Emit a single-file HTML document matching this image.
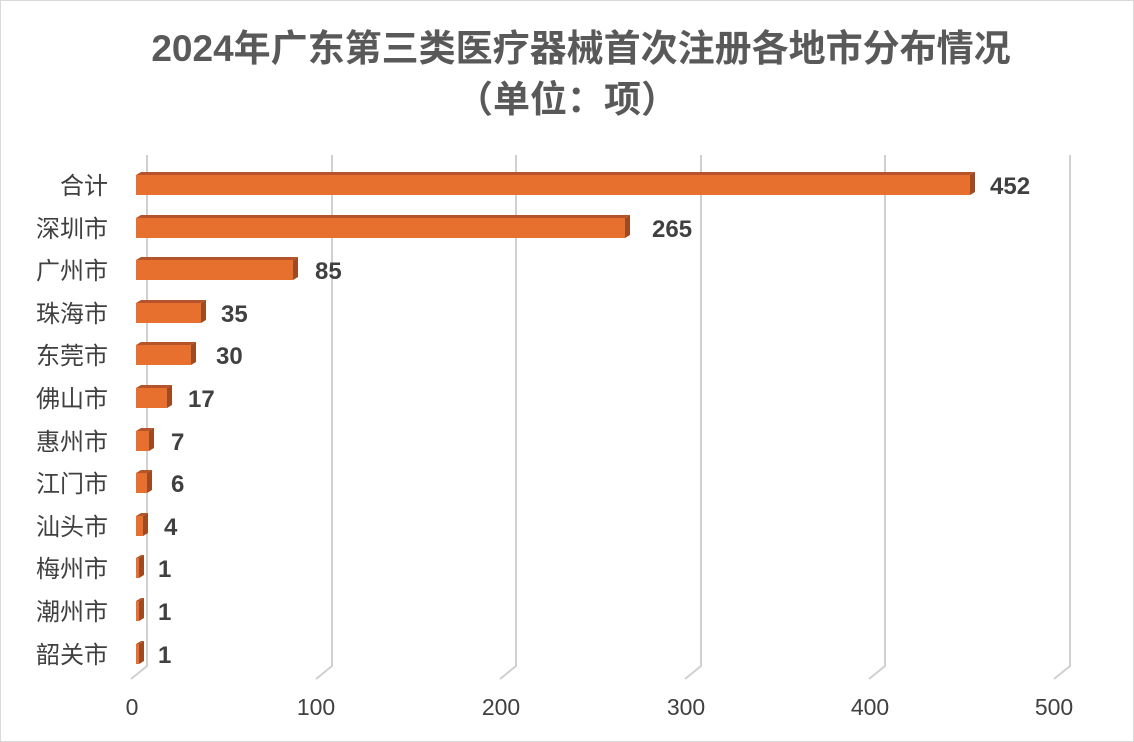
<!DOCTYPE html>
<html><head><meta charset="utf-8"><style>
html,body{margin:0;padding:0;background:#fff}
svg{display:block}
text{font-family:"Liberation Sans","Noto Sans CJK SC",sans-serif}
</style></head><body>
<svg width="1134" height="742" viewBox="0 0 1134 742" xmlns="http://www.w3.org/2000/svg">
<rect x="0.5" y="0.5" width="1133" height="741" fill="#fff" stroke="#d9d9d9"/>
<text x="581" y="61" text-anchor="middle" font-size="37" font-weight="bold" fill="#595959">2024年广东第三类医疗器械首次注册各地市分布情况</text>
<text x="567" y="112" text-anchor="middle" font-size="37" font-weight="bold" fill="#595959">（单位：项）</text>
<g stroke="#d0d0d0" stroke-width="2" fill="none">
<polyline points="147,155 147,666 131,679"/>
<polyline points="332,155 332,666 316,679"/>
<polyline points="516,155 516,666 500,679"/>
<polyline points="701,155 701,666 685,679"/>
<polyline points="885,155 885,666 869,679"/>
<polyline points="1070,155 1070,666 1054,679"/>
</g>
<g font-size="23" fill="#404040" text-anchor="middle">
<text x="132" y="715">0</text><text x="316" y="715">100</text><text x="501" y="715">200</text>
<text x="686" y="715">300</text><text x="870" y="715">400</text><text x="1054" y="715">500</text>
</g>
<g>
<polygon points="136,175 141,172 975,172 970,175" fill="#b5542a"/><rect x="136" y="175" width="834" height="20" fill="#e8702f"/><polygon points="970,175 975,172 975,192 970,195" fill="#9e4a22"/>
<polygon points="136,218 141,215 630,215 625,218" fill="#b5542a"/><rect x="136" y="218" width="489" height="20" fill="#e8702f"/><polygon points="625,218 630,215 630,235 625,238" fill="#9e4a22"/>
<polygon points="136,260 141,257 298,257 293,260" fill="#b5542a"/><rect x="136" y="260" width="157" height="20" fill="#e8702f"/><polygon points="293,260 298,257 298,277 293,280" fill="#9e4a22"/>
<polygon points="136,303 141,300 206,300 201,303" fill="#b5542a"/><rect x="136" y="303" width="65" height="20" fill="#e8702f"/><polygon points="201,303 206,300 206,320 201,323" fill="#9e4a22"/>
<polygon points="136,345 141,342 196,342 191,345" fill="#b5542a"/><rect x="136" y="345" width="55" height="20" fill="#e8702f"/><polygon points="191,345 196,342 196,362 191,365" fill="#9e4a22"/>
<polygon points="136,388 141,385 172,385 167,388" fill="#b5542a"/><rect x="136" y="388" width="31" height="20" fill="#e8702f"/><polygon points="167,388 172,385 172,405 167,408" fill="#9e4a22"/>
<polygon points="136,431 141,428 154,428 149,431" fill="#b5542a"/><rect x="136" y="431" width="13" height="20" fill="#e8702f"/><polygon points="149,431 154,428 154,448 149,451" fill="#9e4a22"/>
<polygon points="136,473 141,470 152,470 147,473" fill="#b5542a"/><rect x="136" y="473" width="11" height="20" fill="#e8702f"/><polygon points="147,473 152,470 152,490 147,493" fill="#9e4a22"/>
<polygon points="136,516 141,513 148,513 143,516" fill="#b5542a"/><rect x="136" y="516" width="7" height="20" fill="#e8702f"/><polygon points="143,516 148,513 148,533 143,536" fill="#9e4a22"/>
<polygon points="136,558 141,555 144,555 139,558" fill="#b5542a"/><rect x="136" y="558" width="3" height="20" fill="#e8702f"/><polygon points="139,558 144,555 144,575 139,578" fill="#9e4a22"/>
<polygon points="136,601 141,598 144,598 139,601" fill="#b5542a"/><rect x="136" y="601" width="3" height="20" fill="#e8702f"/><polygon points="139,601 144,598 144,618 139,621" fill="#9e4a22"/>
<polygon points="136,644 141,641 144,641 139,644" fill="#b5542a"/><rect x="136" y="644" width="3" height="20" fill="#e8702f"/><polygon points="139,644 144,641 144,661 139,664" fill="#9e4a22"/>
</g>
<g font-size="24" font-weight="bold" fill="#404040">
<text x="990" y="194">452</text>
<text x="652" y="237">265</text>
<text x="315" y="279">85</text>
<text x="221" y="322">35</text>
<text x="216" y="364">30</text>
<text x="188" y="407">17</text>
<text x="171" y="450">7</text>
<text x="171" y="492">6</text>
<text x="164" y="535">4</text>
<text x="158" y="577">1</text>
<text x="158" y="620">1</text>
<text x="158" y="663">1</text>
</g>
<g font-size="24" fill="#404040" text-anchor="end">
<text x="108" y="194">合计</text>
<text x="108" y="237">深圳市</text>
<text x="108" y="279">广州市</text>
<text x="108" y="322">珠海市</text>
<text x="108" y="364">东莞市</text>
<text x="108" y="407">佛山市</text>
<text x="108" y="450">惠州市</text>
<text x="108" y="492">江门市</text>
<text x="108" y="535">汕头市</text>
<text x="108" y="577">梅州市</text>
<text x="108" y="620">潮州市</text>
<text x="108" y="663">韶关市</text>
</g>
</svg>
</body></html>
